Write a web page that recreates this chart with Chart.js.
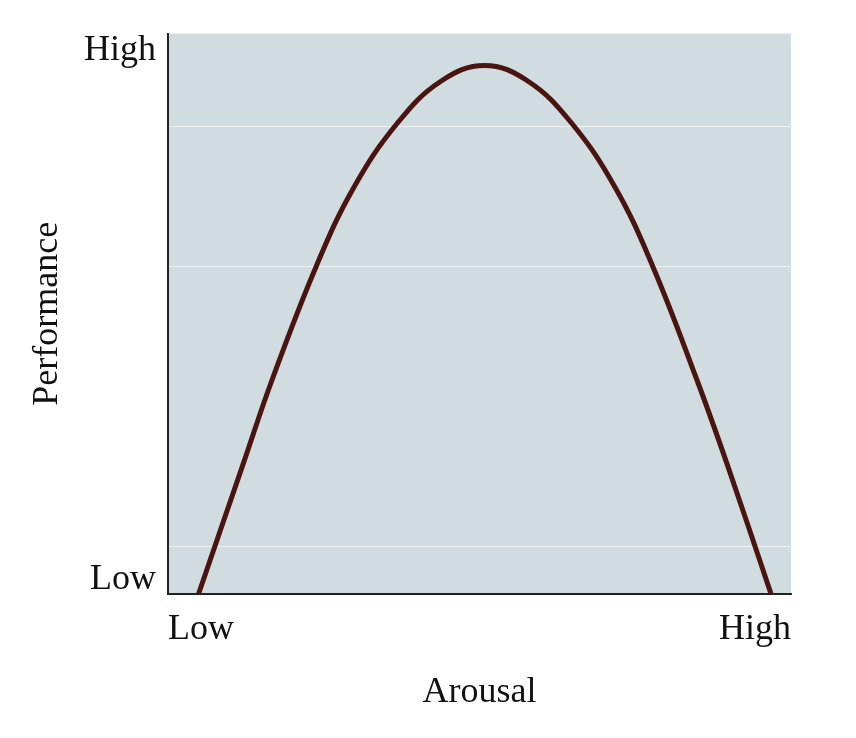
<!DOCTYPE html>
<html>
<head>
<meta charset="utf-8">
<script src="https://cdn.jsdelivr.net/npm/chart.js@4"></script>
<style>
  body { margin: 0; background: #fff; }
  #wrap { width: 856px; height: 738px; }
</style>
</head>
<body>
<div id="wrap"><canvas id="c" width="856" height="738"></canvas></div>
<script>
// curve (0..100 on both axes)
const arousal = [4.9, 12.0, 16.8, 23.8, 29.8, 36.8, 43.8, 50.8, 57.8, 64.8, 71.8, 77.8, 84.8, 89.8, 96.8];
const performance = [0, 23.0, 38.5, 58.5, 72.5, 84.0, 91.5, 94.3, 91.5, 84.0, 72.5, 58.5, 38.5, 23.0, 0];
const gridLevels = [8.4, 58.5, 83.5];
const labelTicks = { 2.5: 'Low', 97: 'High' };
const xTickNames = { 0: 'Low', 100: 'High' };

const serif = "'Liberation Serif', 'DejaVu Serif', serif";

const bgPlugin = {
  id: 'bg',
  beforeDraw(chart) {
    const a = chart.chartArea, ctx = chart.ctx;
    ctx.save();
    ctx.fillStyle = '#d0dcdf';
    ctx.fillRect(a.left, a.top, a.right - a.left, a.bottom - a.top);
    ctx.restore();
  }
};

new Chart(document.getElementById('c'), {
  type: 'line',
  data: {
    datasets: [{
      data: arousal.map((x, i) => ({ x: x, y: performance[i] })),
      borderColor: '#4a1410',
      borderWidth: 5,
      pointRadius: 0,
      tension: 0.4,
      fill: false
    }]
  },
  options: {
    responsive: false,
    animation: false,
    layout: { padding: { top: 32, right: 65, left: 0, bottom: 20 } },
    plugins: { legend: { display: false }, tooltip: { enabled: false } },
    scales: {
      x: {
        type: 'linear', min: 0, max: 100,
        afterBuildTicks(s) { s.ticks = [{ value: 0 }, { value: 100 }]; },
        afterFit(s) { s.height = 124; },
        ticks: {
          align: 'inner', padding: 14, color: '#111',
          font: { family: serif, size: 36 },
          callback: v => xTickNames[v]
        },
        grid: { display: false, drawTicks: false },
        border: { display: true, color: '#222', width: 2 },
        title: { display: true, text: 'Arousal', color: '#111', padding: { top: 8 }, font: { family: serif, size: 36 } }
      },
      y: {
        type: 'linear', min: 0, max: 100,
        afterBuildTicks(s) {
          s.ticks = [2.5].concat(gridLevels, [97]).map(v => ({ value: v }));
        },
        afterFit(s) { s.width = 168; },
        ticks: {
          padding: 12, color: '#111',
          font: { family: serif, size: 36 },
          callback: v => labelTicks[v] || ''
        },
        grid: {
          drawTicks: false,
          color: ctx => (ctx.tick && gridLevels.includes(ctx.tick.value)) ? 'rgba(255,255,255,0.6)' : 'rgba(0,0,0,0)',
          lineWidth: 1
        },
        border: { display: true, color: '#222', width: 2 },
        title: { display: true, text: 'Performance', color: '#111', padding: { top: 26, bottom: 0 }, font: { family: serif, size: 36 } }
      }
    }
  },
  plugins: [bgPlugin]
});
</script>
</body>
</html>
